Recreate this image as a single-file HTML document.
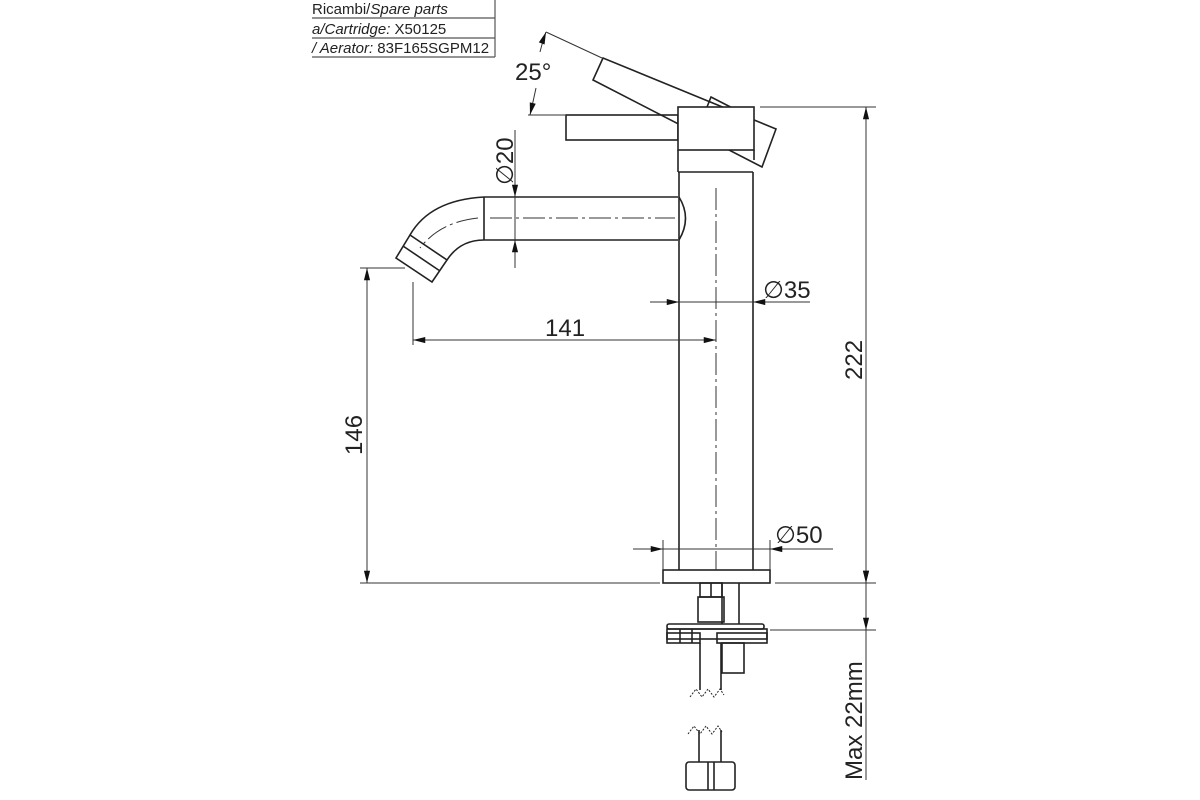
<!DOCTYPE html>
<html><head><meta charset="utf-8"><style>
html,body{margin:0;padding:0;background:#fff;}
svg{display:block;}
text{font-family:"Liberation Sans","DejaVu Sans",sans-serif;fill:#222;}
</style></head><body>
<svg width="1200" height="800" viewBox="0 0 1200 800" xmlns="http://www.w3.org/2000/svg">
<defs>
<marker id="a" viewBox="0 0 14 8" refX="14" refY="4" markerWidth="14" markerHeight="7" orient="auto-start-reverse" markerUnits="userSpaceOnUse"><path d="M0,0.5 L14,4 L0,7.5z" fill="#111"/></marker>
</defs>
<!-- table -->
<g stroke="#555" stroke-width="1.2" fill="none">
<line x1="312" y1="18" x2="495" y2="18"/><line x1="312" y1="38" x2="495" y2="38"/><line x1="312" y1="57" x2="495" y2="57"/>
<line x1="495" y1="0" x2="495" y2="57"/>
</g>
<text x="312" y="14" font-size="15">Ricambi/<tspan font-style="italic">Spare parts</tspan></text>
<text x="312" y="34" font-size="15"><tspan font-style="italic">a/Cartridge:</tspan>   X50125</text>
<text x="312" y="53" font-size="15"><tspan font-style="italic">/ Aerator:</tspan> 83F165SGPM12</text>

<g stroke="#222" stroke-width="1.6" fill="none">
<!-- levers -->
<rect x="566" y="115" width="112" height="25"/>
<polygon points="603,58 593,80 762,167 776,129"/>
<polyline points="707,107 711,97 752,118"/>
<!-- head -->
<rect x="678" y="107" width="76" height="43" fill="#fff"/>
<line x1="678" y1="150" x2="678" y2="172"/><line x1="754" y1="150" x2="754" y2="160"/>
<line x1="678" y1="172" x2="753" y2="172"/>
<!-- body -->
<line x1="679" y1="172" x2="679" y2="570"/><line x1="753" y1="172" x2="753" y2="570"/>
<!-- spout -->
<line x1="484" y1="197" x2="678" y2="197"/><line x1="484" y1="240" x2="678" y2="240"/>
<line x1="484" y1="197" x2="484" y2="240"/>
<path d="M679,197 Q692,218 679,240"/>
<path d="M484,197 Q430,200 410,235"/>
<path d="M484,240 Q460,240 447,260"/>
<polygon points="410,235 447,260 432,282 396,258"/>
<line x1="403" y1="246" x2="440" y2="271"/>
<!-- base -->
<rect x="663" y="570" width="107" height="13"/>
<rect x="700" y="583" width="22" height="14"/><line x1="711" y1="583" x2="711" y2="597"/>
<rect x="698" y="597" width="26" height="25"/>
<line x1="722" y1="583" x2="722" y2="624"/><line x1="739" y1="583" x2="739" y2="624"/>
<rect x="667" y="624" width="97" height="5" rx="2"/>
<rect x="667" y="629" width="100" height="10"/>
<line x1="680" y1="629" x2="680" y2="643"/><line x1="692" y1="629" x2="692" y2="643"/>
<rect x="667" y="633" width="33" height="10"/><rect x="717" y="633" width="50" height="10"/>
<rect x="722" y="643" width="22" height="30"/>
<line x1="700" y1="643" x2="700" y2="690"/><line x1="721" y1="643" x2="721" y2="690"/>
<path d="M690,697 l6,-8 6,8 6,-8 6,8 6,-8 4,6" stroke-width="1" stroke-dasharray="2 1.5"/>
<path d="M688,734 l6,-8 6,8 6,-8 6,8 6,-8 4,6" stroke-width="1" stroke-dasharray="2 1.5"/>
<line x1="699" y1="730" x2="699" y2="762"/><line x1="721" y1="730" x2="721" y2="762"/>
<rect x="686" y="762" width="49" height="28" rx="3"/><line x1="708" y1="762" x2="708" y2="790"/><line x1="714" y1="762" x2="714" y2="790"/>
</g>
<!-- centerlines -->
<g stroke="#333" stroke-width="1" stroke-dasharray="22 4 3 4" fill="none">
<line x1="490" y1="218" x2="675" y2="218"/>
<line x1="716" y1="188" x2="716" y2="570"/>
<path d="M478,218 Q440,222 420,248"/>
</g>
<!-- dimension lines -->
<g stroke="#333" stroke-width="1" fill="none">
<line x1="760" y1="107" x2="876" y2="107"/><line x1="775" y1="583" x2="876" y2="583"/><line x1="770" y1="630" x2="876" y2="630"/>
<line x1="866" y1="107" x2="866" y2="583" marker-start="url(#a)" marker-end="url(#a)"/>
<line x1="866" y1="560" x2="866" y2="583" marker-end="url(#a)"/>
<line x1="866" y1="583" x2="866" y2="780"/>
<line x1="866" y1="605" x2="866" y2="630" marker-end="url(#a)"/>
<line x1="360" y1="268" x2="405" y2="268"/><line x1="360" y1="583" x2="660" y2="583"/>
<line x1="367" y1="268" x2="367" y2="583" marker-start="url(#a)" marker-end="url(#a)"/>
<line x1="413" y1="282" x2="413" y2="345"/>
<line x1="413" y1="340" x2="716" y2="340" marker-start="url(#a)" marker-end="url(#a)"/>
<line x1="650" y1="302" x2="679" y2="302" marker-end="url(#a)"/>
<line x1="810" y1="302" x2="753" y2="302" marker-end="url(#a)"/>
<line x1="679" y1="302" x2="753" y2="302"/>
<line x1="633" y1="549" x2="663" y2="549" marker-end="url(#a)"/>
<line x1="833" y1="549" x2="770" y2="549" marker-end="url(#a)"/>
<line x1="663" y1="549" x2="770" y2="549"/>
<line x1="663" y1="540" x2="663" y2="570"/><line x1="770" y1="540" x2="770" y2="570"/>
<line x1="515" y1="130" x2="515" y2="197" marker-end="url(#a)"/>
<line x1="515" y1="268" x2="515" y2="240" marker-end="url(#a)"/>
<line x1="515" y1="197" x2="515" y2="240"/>
<line x1="546" y1="32" x2="602" y2="58"/>
<line x1="528" y1="115" x2="565" y2="115"/>
<path d="M536,88 Q533,102 530,115" marker-end="url(#a)"/>
<path d="M540,52 Q543,40 546,32" marker-end="url(#a)"/>
</g>
<g font-size="24">
<text x="515" y="80">25°</text>
<text x="545" y="336">141</text>
<text x="763" y="298">∅35</text>
<text x="775" y="543">∅50</text>
<text transform="translate(862,380) rotate(-90)">222</text>
<text transform="translate(362,455) rotate(-90)">146</text>
<text transform="translate(513,185) rotate(-90)">∅20</text>
<text transform="translate(862,780) rotate(-90)">Max 22mm</text>
</g>
</svg>
</body></html>
